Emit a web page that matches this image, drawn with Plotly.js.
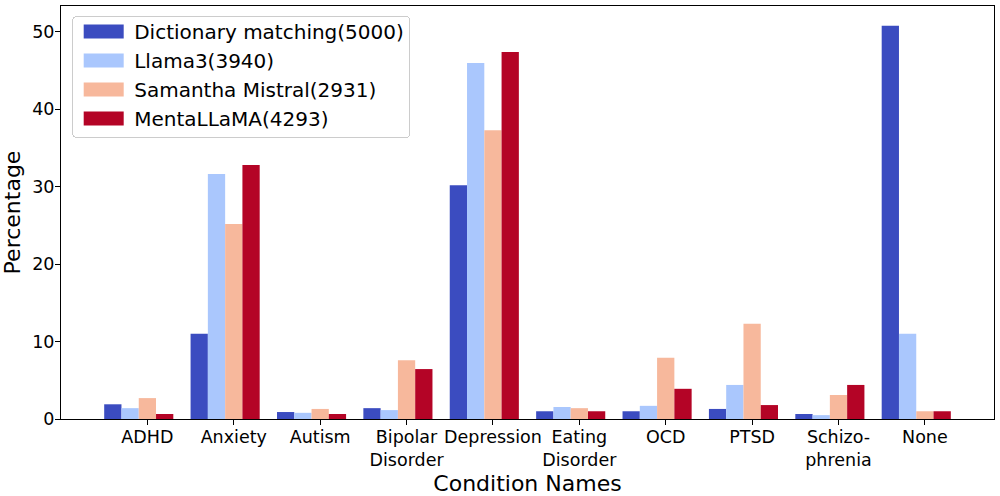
<!DOCTYPE html>
<html>
<head>
<meta charset="utf-8">
<script src="https://cdn.plot.ly/plotly-3.0.1.min.js"></script>
<style>html,body{margin:0;padding:0;background:#fff;}#chart{width:1000px;height:496px;}</style>
</head>
<body>
<div id="chart"></div>
<script>
const categories = ["ADHD", "Anxiety", "Autism", "Bipolar<br>Disorder", "Depression", "Eating<br>Disorder", "OCD", "PTSD", "Schizo-<br>phrenia", "None"];
const seriesNames = ["Dictionary matching(5000)", "Llama3(3940)", "Samantha Mistral(2931)", "MentaLLaMA(4293)"];
const dictionaryMatching = [1.9, 11.0, 0.9, 1.4, 30.2, 1.0, 1.0, 1.3, 0.65, 50.8];
const llama3 = [1.4, 31.65, 0.8, 1.15, 46.0, 1.55, 1.7, 4.4, 0.5, 11.0];
const samanthaMistral = [2.7, 25.2, 1.3, 7.6, 37.3, 1.4, 7.9, 12.3, 3.1, 1.0];
const mentaLLaMA = [0.65, 32.8, 0.65, 6.45, 47.4, 1.0, 3.9, 1.8, 4.4, 1.0];
const colors = ["#3b4cc0", "#aac7fd", "#f7b89c", "#b40426"];

const allSeries = [dictionaryMatching, llama3, samanthaMistral, mentaLLaMA];
const idx = categories.map((c, i) => i);
const traces = allSeries.map((vals, k) => ({
  type: "bar",
  name: seriesNames[k],
  x: idx,
  y: vals,
  marker: {color: colors[k], line: {width: 0}},
  hoverinfo: "y"
}));

const font = {family: "DejaVu Sans, sans-serif", color: "#000"};
const layout = {
  width: 1000, height: 496,
  margin: {l: 61, r: 6, t: 6, b: 77},
  paper_bgcolor: "#fff", plot_bgcolor: "#fff",
  barmode: "group", bargap: 0.2, bargroupgap: 0,
  font: font,
  showlegend: true,
  legend: {
    x: 0.012, y: 0.988, xanchor: "left", yanchor: "top",
    bgcolor: "rgba(255,255,255,0.9)", bordercolor: "#cccccc", borderwidth: 1,
    font: {family: font.family, size: 20, color: "#000"},
    itemwidth: 51
  },
  xaxis: {
    range: [-0.9, 9.9],
    tickmode: "array",
    tickvals: idx.map(i => i + 0.1),
    ticktext: categories,
    tickangle: 0,
    tickfont: {family: font.family, size: 17.5, color: "#000"},
    ticks: "outside", ticklen: 5, tickcolor: "#000",
    ticklabelstandoff: -3,
    showgrid: false, zeroline: false,
    showline: true, linecolor: "#000", linewidth: 1, mirror: true,
    title: {text: "Condition Names", font: {family: font.family, size: 22, color: "#000"}, standoff: 6}
  },
  yaxis: {
    range: [0, 53.35],
    tickvals: [0, 10, 20, 30, 40, 50],
    tickfont: {family: font.family, size: 17.5, color: "#000"},
    ticks: "outside", ticklen: 5, tickcolor: "#000",
    ticklabelstandoff: -3,
    showgrid: false, zeroline: false,
    showline: true, linecolor: "#000", linewidth: 1, mirror: true,
    title: {text: "Percentage", font: {family: font.family, size: 22, color: "#000"}, standoff: 6}
  }
};
Plotly.newPlot("chart", traces, layout, {displayModeBar: false, staticPlot: true}).then(gd => {
  gd.querySelectorAll(".legend .legendpoints path").forEach(p => {
    p.setAttribute("d", "M20,7H-20V-7H20Z");
  });
  const bg = gd.querySelector(".legend rect.bg");
  if (bg) {
    const y0 = parseFloat(bg.getAttribute("y") || 0);
    const h = parseFloat(bg.getAttribute("height"));
    bg.setAttribute("y", y0 + 5);
    bg.setAttribute("height", h - 6);
    bg.setAttribute("rx", 4);
    bg.setAttribute("ry", 4);
  }
});
</script>
</body>
</html>
